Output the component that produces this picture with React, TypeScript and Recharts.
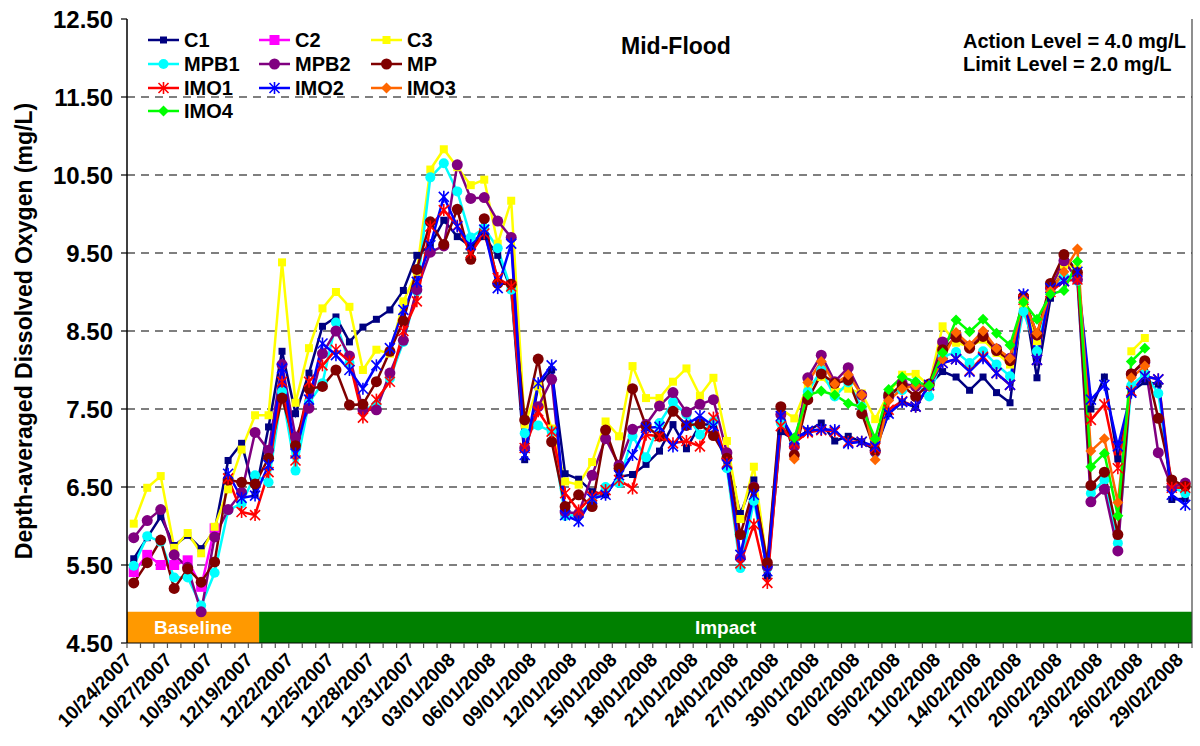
import React from 'react';
import { LineChart, Line, XAxis, YAxis, ReferenceLine, ReferenceArea } from 'recharts';

const FONT = '"Liberation Sans", Arial, Helvetica, sans-serif';

const categories = [
  '10/24/2007', '10/25/2007', '10/26/2007', '10/27/2007', '10/28/2007', '10/29/2007', '10/30/2007', '10/31/2007', '11/01/2007', '12/19/2007',
  '12/20/2007', '12/21/2007', '12/22/2007', '12/23/2007', '12/24/2007', '12/25/2007', '12/26/2007', '12/27/2007', '12/28/2007', '12/29/2007',
  '12/30/2007', '12/31/2007', '01/01/2008', '02/01/2008', '03/01/2008', '04/01/2008', '05/01/2008', '06/01/2008', '07/01/2008', '08/01/2008',
  '09/01/2008', '10/01/2008', '11/01/2008', '12/01/2008', '13/01/2008', '14/01/2008', '15/01/2008', '16/01/2008', '17/01/2008', '18/01/2008',
  '19/01/2008', '20/01/2008', '21/01/2008', '22/01/2008', '23/01/2008', '24/01/2008', '25/01/2008', '26/01/2008', '27/01/2008', '28/01/2008',
  '29/01/2008', '30/01/2008', '31/01/2008', '01/02/2008', '02/02/2008', '03/02/2008', '04/02/2008', '05/02/2008', '06/02/2008', '10/02/2008',
  '11/02/2008', '12/02/2008', '13/02/2008', '14/02/2008', '15/02/2008', '16/02/2008', '17/02/2008', '18/02/2008', '19/02/2008', '20/02/2008',
  '21/02/2008', '22/02/2008', '23/02/2008', '24/02/2008', '25/02/2008', '26/02/2008', '27/02/2008', '28/02/2008', '29/02/2008',
];

const xTickLabels = [
  '10/24/2007', '10/27/2007', '10/30/2007', '12/19/2007', '12/22/2007', '12/25/2007', '12/28/2007', '12/31/2007', '03/01/2008',
  '06/01/2008', '09/01/2008', '12/01/2008', '15/01/2008', '18/01/2008', '21/01/2008', '24/01/2008', '27/01/2008', '30/01/2008',
  '02/02/2008', '05/02/2008', '11/02/2008', '14/02/2008', '17/02/2008', '20/02/2008', '23/02/2008', '26/02/2008', '29/02/2008',
];

const yTicks = [4.5, 5.5, 6.5, 7.5, 8.5, 9.5, 10.5, 11.5, 12.5];
const gridValues = [5.5, 6.5, 7.5, 8.5, 9.5, 10.5, 11.5];

const phases = [
  { name: 'Baseline', start: '10/24/2007', end: '12/19/2007', color: '#FF9900' },
  { name: 'Impact', start: '12/19/2007', end: '29/02/2008', color: '#008000' },
];

const C1 = [
  5.58, 5.85, 6.12, 5.75, 5.88, 5.71, 5.94, 6.84, 7.06, 6.40,
  7.27, 8.24, 7.44, 7.96, 8.56, 8.68, 8.36, 8.55, 8.65, 8.77,
  9.02, 9.47, 9.60, 9.92, 9.71, 9.58, 9.71, 9.47, 9.03, 6.85,
  7.79, 8.00, 6.67, 6.60, 6.44, 6.40, 6.63, 6.66, 6.79, 6.96,
  7.30, 6.99, 7.30, 7.30, 6.83, 6.16, 6.59, 5.36, 7.21, 7.11,
  7.22, 7.32, 7.09, 7.15, 7.08, 6.97, 7.44, 7.59, 7.52, 7.81,
  7.98, 7.91, 7.74, 7.91, 7.71, 7.58, 8.95, 7.90, 8.92, 9.49,
  9.25, 7.50, 7.91, 6.86, 7.72, 7.85, 7.82, 6.34, 6.35,
];

const C2 = [
  5.41, 5.63, 5.50, 5.50, 5.56, 5.22, 5.97, null, null, null,
  null, null, null, null, null, null, null, null, null, null,
  null, null, null, null, null, null, null, null, null, null,
  null, null, null, null, null, null, null, null, null, null,
  null, null, null, null, null, null, null, null, null, null,
  null, null, null, null, null, null, null, null, null, null,
  null, null, null, null, null, null, null, null, null, null,
  null, null, null, null, null, null, null, null, null,
];

const C3 = [
  6.03, 6.49, 6.64, 5.72, 5.91, 5.65, 5.99, 6.47, 6.98, 7.42,
  7.42, 9.38, 7.58, 8.28, 8.79, 9.00, 8.81, 8.00, 8.26, 8.21,
  8.88, 9.26, 10.57, 10.83, 10.60, 10.37, 10.44, 9.62, 10.17, 7.30,
  7.79, 7.25, 6.57, 6.53, 6.82, 7.34, 7.15, 8.05, 7.64, 7.64,
  7.85, 8.02, 7.67, 7.90, 7.09, 6.09, 6.76, 5.50, 7.50, 7.38,
  7.80, 7.91, 7.75, 7.76, 7.70, 7.37, 7.70, 7.94, 7.95, 7.80,
  8.56, 8.35, 8.30, 8.39, 8.22, 8.07, 8.85, 8.37, 9.05, 9.35,
  9.30, null, null, null, 8.24, 8.41, null, null, null,
];

const MPB1 = [
  5.49, 5.87, 5.80, 5.34, 5.34, 4.98, 5.40, 6.20, 6.29, 6.65,
  6.56, 7.72, 6.71, 7.58, 7.83, 8.61, 8.09, 7.49, 7.55, 7.89,
  8.36, 9.01, 10.47, 10.65, 10.29, 9.70, 9.82, 9.56, 9.03, 7.19,
  7.29, 7.21, 6.13, 6.14, 6.31, 6.50, 6.55, 7.15, 6.88, 7.32,
  7.59, 7.43, 7.17, 7.34, 6.74, 5.46, 6.32, 5.46, 7.32, 7.06,
  7.72, 8.00, 7.66, 7.84, 7.53, 6.94, 7.70, 7.74, 7.84, 7.66,
  8.17, 8.23, 8.09, 8.24, 8.07, 7.92, 8.75, 8.24, 9.05, 9.20,
  9.14, 6.42, 6.59, 5.78, 7.80, 7.95, 7.70, 6.50, 6.42,
];

const MPB2 = [
  5.85, 6.07, 6.21, 5.63, 5.47, 4.90, 5.86, 6.21, 6.43, 7.20,
  6.97, 8.07, 7.14, 7.51, 8.21, 8.50, 8.18, 7.49, 7.49, 7.96,
  8.38, 9.03, 9.51, 9.59, 10.63, 10.20, 10.21, 9.91, 9.70, 7.00,
  7.53, 7.88, 6.18, 6.16, 6.65, 7.12, 6.78, 7.24, 7.30, 7.54,
  7.71, 7.46, 7.56, 7.62, 6.94, 5.59, 6.50, 5.48, 7.43, 7.02,
  7.90, 8.19, 7.85, 8.03, 7.68, 6.95, 7.65, 7.83, 7.79, 7.80,
  8.36, 8.45, 8.30, 8.45, 8.27, 8.15, 8.94, 8.45, 9.05, 9.40,
  9.16, 6.31, 6.47, 5.68, 7.95, 8.10, 6.94, 6.50, 6.55,
];

const MP = [
  5.27, 5.53, 5.82, 5.20, 5.45, 5.28, 5.54, 6.59, 6.56, 6.54,
  6.87, 7.64, 7.03, 7.76, 7.79, 8.00, 7.55, 7.56, 7.85, 8.24,
  8.63, 9.29, 9.90, 9.61, 10.06, 9.42, 9.94, 9.11, 9.10, 7.36,
  8.14, 7.08, 6.25, 6.40, 6.25, 7.23, 6.74, 7.76, 7.28, 7.15,
  7.47, 7.29, 7.31, 7.16, 6.87, 5.89, 6.49, 5.53, 7.53, 6.91,
  7.62, 7.95, 7.83, 7.87, 7.44, 6.97, 7.68, 7.80, 7.66, 7.82,
  8.26, 8.42, 8.28, 8.43, 8.25, 8.12, 8.94, 8.45, 9.11, 9.48,
  9.25, 6.52, 6.69, 5.89, 7.95, 8.12, 7.38, 6.59, 6.51,
];

const IMO1 = [
  null, null, null, null, null, null, null, 6.61, 6.18, 6.14,
  6.69, 7.85, 6.84, 7.85, 8.06, 8.26, 8.11, 7.39, 7.62, 7.85,
  8.50, 8.88, 9.84, 10.05, 9.85, 9.50, 9.75, 9.18, 9.07, 7.00,
  7.47, 7.21, 6.42, 6.20, 6.38, 6.46, 6.59, 6.48, 7.17, 7.15,
  7.06, 7.09, 7.02, 7.39, 6.81, 5.52, 6.02, 5.27, 7.28, 7.06,
  7.20, 7.23, 7.21, 7.08, 7.08, 7.00, 7.49, 7.60, 7.53, 7.80,
  8.09, 8.14, 7.99, 8.17, 7.96, 7.81, 8.90, 8.13, 9.00, 9.14,
  9.16, 7.36, 7.56, 6.74, 7.73, 7.92, 7.88, 6.49, 6.49,
];

const IMO2 = [
  null, null, null, null, null, null, null, 6.67, 6.36, 6.39,
  6.78, 8.02, 6.93, 7.62, 8.34, 8.19, 8.00, 7.76, 8.06, 8.28,
  8.77, 9.13, 9.60, 10.22, 9.84, 9.60, 9.80, 9.05, 9.62, 6.91,
  7.83, 8.06, 6.14, 6.06, 6.35, 6.40, 6.65, 6.91, 7.26, 7.27,
  7.02, 7.30, 7.41, 7.28, 6.79, 5.63, 6.40, 5.42, 7.41, 7.11,
  7.22, 7.24, 7.23, 7.06, 7.08, 7.02, 7.44, 7.59, 7.53, 7.81,
  8.09, 8.14, 7.98, 8.15, 7.96, 7.81, 8.97, 8.13, 9.05, 9.14,
  9.26, 7.62, 7.81, 7.02, 7.71, 7.92, 7.88, 6.40, 6.27,
];

const IMO3 = [
  null, null, null, null, null, null, null, null, null, null,
  null, null, null, null, null, null, null, null, null, null,
  null, null, null, null, null, null, null, null, null, null,
  null, null, null, null, null, null, null, null, null, null,
  null, null, null, null, null, null, null, null, null, 6.86,
  7.84, 8.11, 7.82, 7.94, 7.68, 6.85, 7.61, 7.76, 7.80, 7.80,
  8.14, 8.48, 8.32, 8.50, 8.28, 8.15, 8.90, 8.47, 9.01, 9.26,
  9.55, 6.96, 7.12, 6.30, 7.90, 8.05, null, null, null,
];

const IMO4 = [
  null, null, null, null, null, null, null, null, null, null,
  null, null, null, null, null, null, null, null, null, null,
  null, null, null, null, null, null, null, null, null, null,
  null, null, null, null, null, null, null, null, null, null,
  null, null, null, null, null, null, null, null, null, 7.13,
  7.68, 7.73, 7.68, 7.57, 7.53, 7.12, 7.75, 7.91, 7.85, 7.80,
  8.22, 8.64, 8.49, 8.65, 8.47, 8.32, 8.87, 8.65, 8.97, 9.02,
  9.39, 6.76, 6.93, 6.13, 8.11, 8.28, null, null, null,
];

type Shape = 'square' | 'circle' | 'star' | 'diamond';
type SeriesDef = { key: string; color: string; shape: Shape; size: number; data: (number | null)[] };

const series: SeriesDef[] = [
  { key: 'C1', color: '#000080', shape: 'square', size: 7, data: C1 },
  { key: 'C2', color: '#FF00FF', shape: 'square', size: 10, data: C2 },
  { key: 'C3', color: '#FFFF00', shape: 'square', size: 8, data: C3 },
  { key: 'MPB1', color: '#00FFFF', shape: 'circle', size: 10, data: MPB1 },
  { key: 'MPB2', color: '#800080', shape: 'circle', size: 11, data: MPB2 },
  { key: 'MP', color: '#800000', shape: 'circle', size: 11, data: MP },
  { key: 'IMO1', color: '#FF0000', shape: 'star', size: 10, data: IMO1 },
  { key: 'IMO2', color: '#0000FF', shape: 'star', size: 10, data: IMO2 },
  { key: 'IMO3', color: '#FF6600', shape: 'diamond', size: 11, data: IMO3 },
  { key: 'IMO4', color: '#00FF00', shape: 'diamond', size: 11, data: IMO4 },
];

const rows = categories.map((date, i) => {
  const r: Record<string, any> = { x: i, date };
  series.forEach((s) => {
    const v = s.data[i];
    r[s.key] = v === undefined ? null : v;
  });
  return r;
});

const idxOf = (d: string) => categories.indexOf(d);
const labelIdx = xTickLabels.map(idxOf);
const boundaries = categories.map((_, i) => i - 0.5).concat([categories.length - 0.5]);
const xTicks = [...boundaries, ...labelIdx];
const xDomain = [-0.5, categories.length - 0.5];

function Marker({ shape, cx, cy, size, color }: { shape: Shape; cx: number; cy: number; size: number; color: string }) {
  const h = size / 2;
  if (shape === 'square') return <rect x={cx - h} y={cy - h} width={size} height={size} fill={color} />;
  if (shape === 'circle') return <circle cx={cx} cy={cy} r={h} fill={color} />;
  if (shape === 'diamond')
    return <polygon points={`${cx},${cy - h} ${cx + h},${cy} ${cx},${cy + h} ${cx - h},${cy}`} fill={color} />;
  return (
    <g stroke={color} strokeWidth={1.6}>
      <line x1={cx - h} y1={cy - h} x2={cx + h} y2={cy + h} />
      <line x1={cx - h} y1={cy + h} x2={cx + h} y2={cy - h} />
      <line x1={cx} y1={cy - h - 1} x2={cx} y2={cy + h + 1} />
    </g>
  );
}

const makeDot = (s: SeriesDef) => (props: any) => {
  const { cx, cy, index } = props;
  const k = `${s.key}-dot-${index}`;
  if (cx == null || cy == null || Number.isNaN(cx) || Number.isNaN(cy)) return <g key={k} />;
  return (
    <g key={k}>
      <Marker shape={s.shape} cx={cx} cy={cy} size={s.size} color={s.color} />
    </g>
  );
};

const XTick = (props: any) => {
  const { x, y, payload } = props;
  const v = payload.value;
  if (!Number.isInteger(v)) {
    return <line x1={x} y1={y} x2={x} y2={y + 5} stroke="#555" strokeWidth={1.2} />;
  }
  const label = categories[v];
  const ax = x - 1;
  const ay = y + 18;
  return (
    <text
      x={ax}
      y={ay}
      transform={`rotate(-45 ${ax} ${ay})`}
      textAnchor="end"
      fontFamily={FONT}
      fontWeight="bold"
      fontSize={19}
      fill="#000"
    >
      {label}
    </text>
  );
};

const YLabel = (props: any) => {
  const vb = props.viewBox || {};
  const cx = 24;
  const cy = (vb.y ?? 19) + (vb.height ?? 624) / 2;
  return (
    <text
      x={cx}
      y={cy}
      transform={`rotate(-90 ${cx} ${cy})`}
      textAnchor="middle"
      dominantBaseline="central"
      fontFamily={FONT}
      fontWeight="bold"
      fontSize={23}
      fill="#000"
    >
      Depth-averaged Dissolved Oxygen (mg/L)
    </text>
  );
};

function LegendBox() {
  const cols = [148, 259, 371];
  const rowsY = [40, 64, 88, 111];
  return (
    <svg width={480} height={130} style={{ position: 'absolute', left: 0, top: 0, overflow: 'visible' }}>
      {series.map((s, i) => {
        const cx0 = cols[i % 3];
        const cy = rowsY[Math.floor(i / 3)];
        return (
          <g key={s.key}>
            <line x1={cx0} y1={cy} x2={cx0 + 31} y2={cy} stroke={s.color} strokeWidth={2.5} />
            <Marker shape={s.shape} cx={cx0 + 15.5} cy={cy} size={s.size} color={s.color} />
            <text
              x={cx0 + 36}
              y={cy}
              dominantBaseline="central"
              fontFamily={FONT}
              fontWeight="bold"
              fontSize={20}
              fill="#000"
            >
              {s.key}
            </text>
          </g>
        );
      })}
    </svg>
  );
}

export default function App() {
  return (
    <div style={{ position: 'absolute', left: 0, top: 0, width: 1200, height: 746, background: '#fff', fontFamily: FONT }}>
      <LineChart width={1200} height={746} data={rows} margin={{ top: 19, right: 8, bottom: 0, left: 0 }}>
        <XAxis
          dataKey="x"
          type="number"
          domain={xDomain}
          ticks={xTicks}
          interval={0}
          tick={<XTick />}
          tickLine={false}
          tickSize={0}
          tickMargin={0}
          height={103}
          axisLine={{ stroke: '#000', strokeWidth: 1 }}
          allowDataOverflow
        />
        <YAxis
          type="number"
          domain={[4.5, 12.5]}
          ticks={yTicks}
          interval={0}
          width={127}
          tickFormatter={(v: number) => v.toFixed(2)}
          tick={{ fontFamily: FONT, fontWeight: 'bold', fontSize: 24, fill: '#000' }}
          tickLine={{ stroke: '#000', strokeWidth: 1.2 }}
          tickSize={6}
          tickMargin={8}
          axisLine={{ stroke: '#000', strokeWidth: 1.5 }}
          allowDataOverflow
          label={<YLabel />}
        />
        {gridValues.map((v) => (
          <ReferenceLine key={`g-${v}`} y={v} stroke="#555" strokeWidth={1.5} strokeDasharray="8 6" />
        ))}
        {phases.map((p, i) => {
          const s = idxOf(p.start);
          const e = idxOf(p.end);
          const x1 = i === 0 ? -0.5 : s + 0.3;
          const x2 = i === 0 ? e + 0.3 : e + 0.5;
          return (
            <ReferenceArea
              key={p.name}
              x1={x1}
              x2={x2}
              y1={4.5}
              y2={4.9}
              fill={p.color}
              fillOpacity={1}
              stroke="none"
              label={{ value: p.name, position: 'center', fill: '#fff', fontSize: 19, fontWeight: 'bold', fontFamily: FONT }}
            />
          );
        })}
        <ReferenceLine x={categories.length - 0.5} stroke="#444" strokeWidth={1.2} />
        {series.map((s) => (
          <Line
            key={s.key}
            type="linear"
            dataKey={s.key}
            stroke={s.color}
            strokeWidth={2.5}
            dot={makeDot(s)}
            activeDot={false}
            connectNulls={false}
            isAnimationActive={false}
          />
        ))}
      </LineChart>
      <LegendBox />
      <div
        style={{
          position: 'absolute',
          left: 676,
          top: 46,
          transform: 'translate(-50%, -50%)',
          fontWeight: 'bold',
          fontSize: 23,
          whiteSpace: 'nowrap',
          color: '#000',
        }}
      >
        Mid-Flood
      </div>
      <div
        style={{
          position: 'absolute',
          left: 963,
          top: 30,
          fontWeight: 'bold',
          fontSize: 20,
          lineHeight: '23px',
          whiteSpace: 'nowrap',
          color: '#000',
        }}
      >
        <div>Action Level = 4.0 mg/L</div>
        <div>Limit Level = 2.0 mg/L</div>
      </div>
    </div>
  );
}
